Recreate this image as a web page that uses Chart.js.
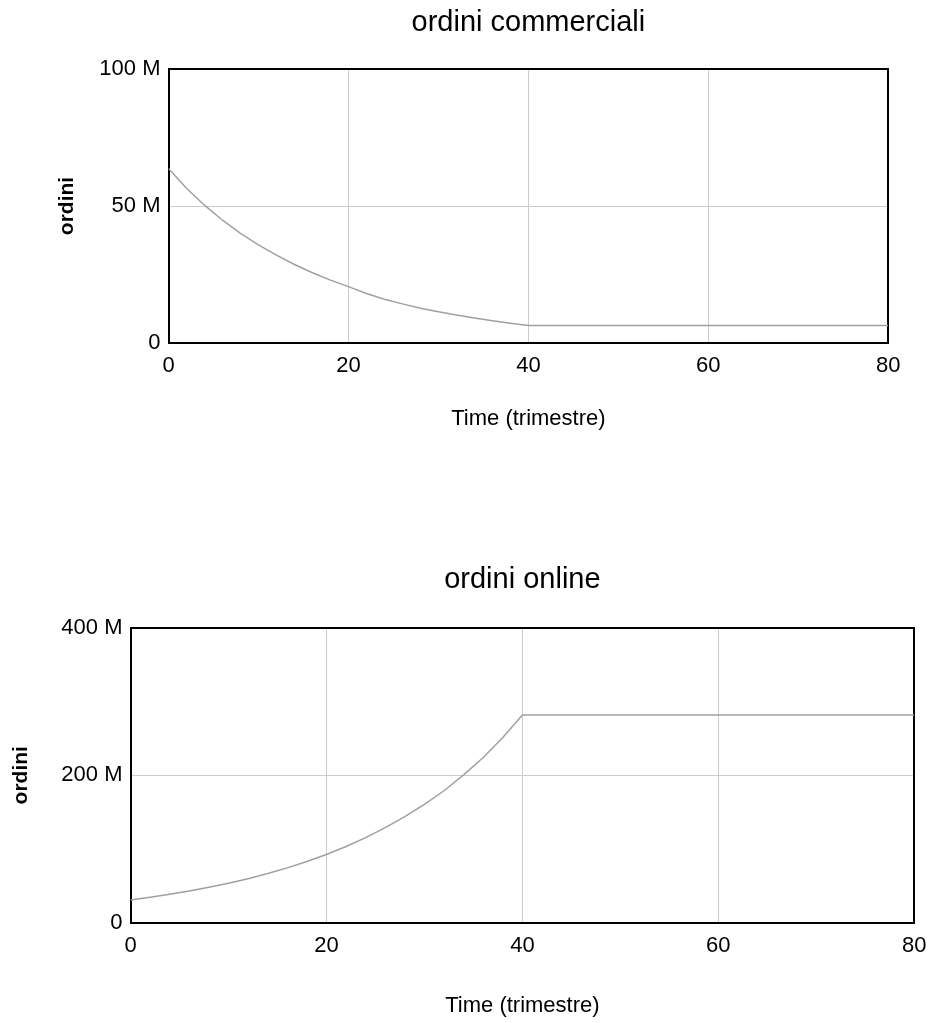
<!DOCTYPE html>
<html>
<head>
<meta charset="utf-8">
<script src="https://cdn.jsdelivr.net/npm/chart.js@4/dist/chart.umd.min.js"></script>
<style>
  html, body { margin: 0; padding: 0; background: #ffffff; }
  body { position: relative; width: 930px; height: 1023px; overflow: hidden; }
  canvas { position: absolute; left: 0; }
  #cTop { top: 0; }
  #cBottom { top: 500px; }
</style>
</head>
<body>
<canvas id="cTop" width="930" height="500"></canvas>
<canvas id="cBottom" width="930" height="523"></canvas>
<script>
// Simulation time (quarters) and model outputs, in millions of orders
const quarters = [0, 2, 4, 6, 8, 10, 12, 14, 16, 18, 20, 22, 24, 26, 28, 30, 32, 34, 36, 38, 40, 80];
const ordiniCommerciali = [63.7, 56.5, 50.3, 44.8, 40.0, 35.8, 32.0, 28.6, 25.6, 22.9, 20.5, 18.0, 15.9, 14.2, 12.6, 11.3, 10.1, 9.0, 8.0, 7.1, 6.3, 6.3];
const ordiniOnline = [31.1, 34.7, 38.8, 43.3, 48.3, 53.8, 60.0, 66.9, 74.6, 83.2, 92.8, 103.5, 115.5, 129, 144, 160.5, 179, 200.5, 224, 251, 281.5, 281.5];

const xTicks = [0, 20, 40, 60, 80];
const yTicksTop = [0, 50, 100];
const yTicksBottom = [0, 200, 400];

const FONT = "'Liberation Sans', Arial, sans-serif";
const INK = '#000000';
const GRID = '#cccccc';
const LINE = '#a0a0a0';

function fmtM(v) { return v === 0 ? '0' : v + ' M'; }

function makeChart(id, cfg) {
  const pts = quarters.map((q, i) => ({ x: q, y: cfg.values[i] }));
  return new Chart(document.getElementById(id), {
    type: 'line',
    data: {
      datasets: [{
        data: pts,
        borderColor: LINE,
        borderWidth: 1.5,
        pointRadius: 0,
        fill: false,
        tension: 0,
        xAxisID: 'x',
        yAxisID: 'y'
      }]
    },
    options: {
      responsive: false,
      devicePixelRatio: 1,
      animation: false,
      layout: { padding: { left: 0, right: 0, top: 0, bottom: cfg.padBottom } },
      plugins: { legend: { display: false }, tooltip: { enabled: false }, title: { display: false } },
      scales: {
        x: {
          type: 'linear', position: 'bottom', min: 0, max: 80,
          afterBuildTicks: s => { s.ticks = xTicks.map(v => ({ value: v })); },
          ticks: { color: INK, padding: 0, font: { family: FONT, size: 22 }, maxRotation: 0 },
          grid: { color: GRID, lineWidth: 1, drawTicks: true, tickLength: 10, tickColor: 'rgba(0,0,0,0)' },
          border: { display: true, color: INK, width: 2 },
          title: { display: true, text: 'Time (trimestre)', color: INK,
                   font: { family: FONT, size: 22 }, padding: { top: 0, bottom: cfg.xTitlePad } },
          afterFit: s => { s.height = cfg.xHeight; }
        },
        xTop: {
          type: 'linear', position: 'top', min: 0, max: 80,
          ticks: { display: false },
          grid: { display: false },
          border: { display: true, color: INK, width: 2 },
          title: { display: true, text: cfg.title, color: INK,
                   font: { family: FONT, size: 29 }, padding: { top: cfg.titlePad, bottom: 0 } },
          afterFit: s => { s.height = cfg.topHeight; }
        },
        y: {
          type: 'linear', position: 'left', min: 0, max: cfg.yMax,
          afterBuildTicks: s => { s.ticks = cfg.yTicks.map(v => ({ value: v })); },
          ticks: { color: INK, padding: 8, font: { family: FONT, size: 22 }, callback: fmtM },
          grid: { color: GRID, lineWidth: 1, drawTicks: false },
          border: { display: true, color: INK, width: 2 },
          title: { display: true, text: 'ordini', color: INK,
                   font: { family: FONT, size: 21, weight: 'bold' }, padding: { top: cfg.yTitlePad, bottom: 0 } },
          afterFit: s => { s.width = cfg.leftWidth; }
        },
        yRight: {
          type: 'linear', position: 'right', min: 0, max: cfg.yMax,
          ticks: { display: false },
          grid: { display: false },
          border: { display: true, color: INK, width: 2 },
          afterFit: s => { s.width = cfg.rightWidth; }
        }
      }
    }
  });
}

makeChart('cTop', {
  title: 'ordini commerciali',
  values: ordiniCommerciali,
  yMax: 100, yTicks: yTicksTop,
  topHeight: 69.3, titlePad: 5.6,
  leftWidth: 168.5, yTitlePad: 54.4,
  rightWidth: 41.7,
  xHeight: 110, xTitlePad: 21,
  padBottom: 47.3
});

makeChart('cBottom', {
  title: 'ordini online',
  values: ordiniOnline,
  yMax: 400, yTicks: yTicksBottom,
  topHeight: 127.5, titlePad: 62.6,
  leftWidth: 130.5, yTitlePad: 8.4,
  rightWidth: 15.7,
  xHeight: 100, xTitlePad: 4,
  padBottom: 0
});
</script>
</body>
</html>
